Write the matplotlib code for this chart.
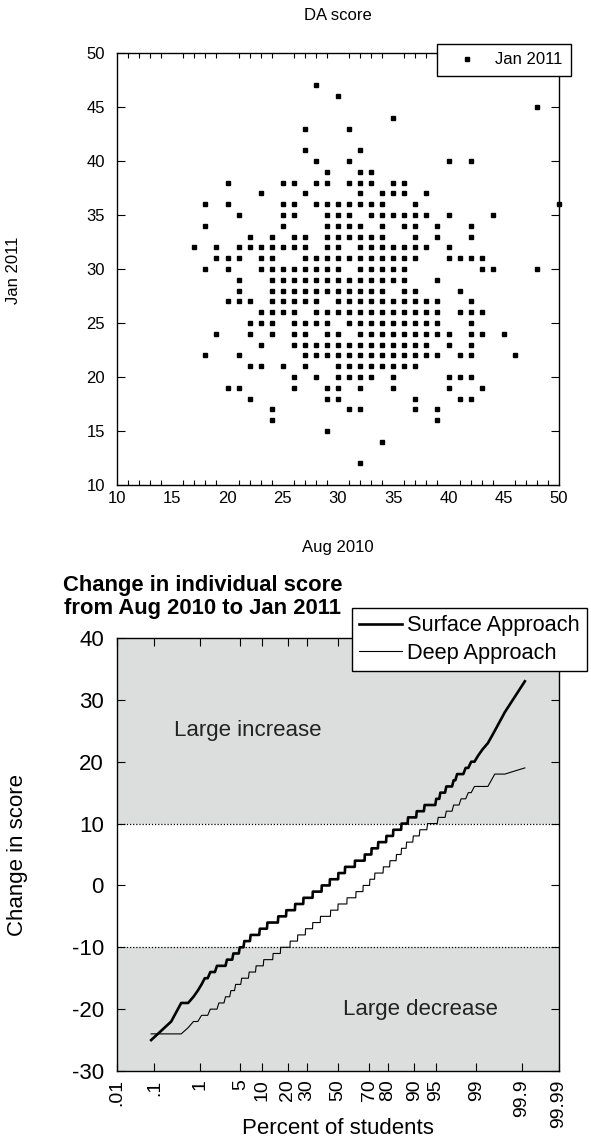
#!/usr/bin/env python
# DA score scatter (Aug 2010 vs Jan 2011) + normal probability plot of score changes
from statistics import NormalDist

import matplotlib
matplotlib.use("Agg")
import matplotlib.pyplot as plt
import numpy as np
from matplotlib.lines import Line2D
from matplotlib.ticker import FixedLocator, MultipleLocator

plt.rcParams["font.family"] = ["Liberation Sans", "DejaVu Sans"]
plt.rcParams["axes.unicode_minus"] = False

# --- top panel: DA score, one row per Jan 2011 score, Aug 2010 scores in that row
jan_levels = [47, 46, 45, 44, 43, 41, 40, 39, 38, 37, 36, 35, 34, 33, 32, 31, 30,
              29, 28, 27, 26, 25, 24, 23, 22, 21, 20, 19, 18, 17, 16, 15, 14, 12]
aug_by_level = [
    [28], [30], [48], [35], [27, 31], [27, 32], [28, 31, 40, 42], [29, 32, 33],
    [20, 25, 26, 28, 29, 31, 32, 33, 35, 36],
    [23, 27, 32, 34, 35, 36, 38],
    [18, 20, 25, 26, 28, 29, 30, 31, 32, 33, 34, 37, 50],
    [21, 25, 26, 29, 30, 31, 33, 34, 35, 36, 37, 38, 40, 44],
    [18, 25, 29, 30, 31, 32, 34, 36, 37, 39, 42],
    [22, 24, 26, 27, 29, 30, 31, 32, 33, 34, 37, 39, 42],
    [17, 19, 21, 22, 23, 24, 25, 26, 27, 29, 30, 32, 33, 34, 35, 36, 37, 38, 40],
    [19, 20, 21, 23, 24, 27, 28, 29, 30, 31, 32, 33, 34, 35, 36, 37, 40, 41, 42, 43],
    [18, 20, 23, 24, 25, 26, 27, 28, 29, 30, 32, 33, 34, 35, 36, 43, 44, 48],
    [21, 24, 25, 26, 27, 28, 29, 30, 31, 32, 33, 34, 35, 36, 39],
    [21, 24, 25, 26, 27, 28, 29, 30, 31, 32, 33, 34, 36, 37, 41],
    [20, 21, 22, 24, 25, 26, 27, 28, 30, 31, 32, 33, 34, 35, 36, 37, 38, 39, 42],
    [23, 24, 25, 26, 28, 29, 30, 31, 32, 33, 34, 35, 36, 37, 38, 39, 41, 42, 43],
    [22, 23, 24, 26, 27, 28, 29, 31, 32, 33, 34, 35, 36, 37, 38, 39, 42],
    [19, 22, 24, 26, 27, 29, 30, 32, 33, 34, 35, 36, 37, 38, 39, 40, 42, 43, 45],
    [23, 26, 27, 28, 29, 30, 31, 32, 33, 34, 35, 36, 37, 38, 40, 42],
    [18, 21, 27, 28, 29, 30, 31, 32, 33, 34, 35, 36, 37, 38, 39, 41, 42, 46],
    [22, 23, 25, 27, 30, 31, 32, 33, 34, 35, 36, 37],
    [26, 28, 30, 31, 32, 33, 35, 40, 41, 42],
    [20, 21, 26, 29, 30, 32, 35, 40, 43],
    [22, 29, 30, 37, 41, 42],
    [24, 31, 32, 37, 39],
    [24, 39], [29], [34], [32],
]

# --- bottom panel: change in score (Jan - Aug) and number of students at each value
surface_change = [-25, -22, -19, -18, -17, -16, -15, -14, -13, -12, -11, -10, -9, -8,
                  -7, -6, -5, -4, -3, -2, -1, 0, 1, 2, 3, 4, 5, 6, 7, 8, 9, 10, 11,
                  12, 13, 14, 15, 16, 17, 18, 19, 20, 21, 22, 23, 25, 28, 33]
surface_count = [1, 1, 2, 1, 1, 1, 2, 3, 6, 5, 6, 5, 8, 14,
                 14, 24, 21, 26, 27, 33, 34, 32, 34, 27, 39, 37, 24, 22, 25, 19, 20, 14, 16,
                 12, 14, 4, 5, 5, 2, 4, 2, 2, 1, 1, 1, 1, 1, 1]
deep_change = [-24, -23, -22, -21, -20, -19, -18, -17, -16, -15, -14, -13, -12, -11,
               -10, -9, -8, -7, -6, -5, -4, -3, -2, -1, 0, 1, 2, 3, 4, 5, 6, 7, 8, 9,
               10, 11, 12, 13, 14, 15, 16, 18, 19]
deep_count = [3, 1, 2, 3, 4, 4, 4, 4, 6, 9, 10, 13, 19, 18,
              26, 23, 26, 26, 29, 40, 30, 36, 35, 27, 24, 17, 27, 19, 17, 12, 11, 13, 11, 11,
              12, 7, 5, 4, 3, 2, 4, 2, 1]
pct_ticks = [0.01, 0.1, 1, 5, 10, 20, 30, 50, 70, 80, 90, 95, 99, 99.9, 99.99]
pct_labels = [".01", ".1", "1", "5", "10", "20", "30", "50", "70", "80", "90", "95",
              "99", "99.9", "99.99"]

W, H = 591, 1144


def box(left, top, right, bottom):
    return [left / W, 1 - bottom / H, (right - left) / W, (bottom - top) / H]


fig = plt.figure(figsize=(W / 100, H / 100), dpi=100)

# ---------------- top: scatter
ax1 = fig.add_axes(box(117, 53, 559, 485))
aug = [a for row in aug_by_level for a in row]
jan = [j for j, row in zip(jan_levels, aug_by_level) for _ in row]
ax1.plot(aug, jan, "s", color="black", ms=2.3, ls="none", clip_on=False)
ax1.set_xlim(10, 50)
ax1.set_ylim(10, 50)
ax1.xaxis.set_major_locator(MultipleLocator(5))
ax1.xaxis.set_minor_locator(MultipleLocator(1))
ax1.yaxis.set_major_locator(MultipleLocator(5))
ax1.tick_params(axis="x", which="major", length=0, labelsize=12, pad=4.5)
ax1.tick_params(axis="x", which="minor", direction="in", length=3.6, top=True, width=0.8)
ax1.tick_params(axis="y", which="major", direction="in", length=5.8, right=True,
                labelsize=12, width=0.8, pad=8.5)
for s in ax1.spines.values():
    s.set_linewidth(1.0)

fig.text(338 / W, 1 - 16 / H, "DA score", ha="center", va="center", fontsize=12)
fig.text(338 / W, 1 - 548 / H, "Aug 2010", ha="center", va="center", fontsize=12)
fig.text(14 / W, 1 - 270 / H, "Jan 2011", ha="center", va="center", rotation=90,
         fontsize=12)
fig.legend(handles=[Line2D([], [], marker="s", color="black", ms=2.3, ls="none")],
           labels=["Jan 2011"], loc="upper right", bbox_to_anchor=(571 / W, 1 - 44 / H),
           fontsize=12, frameon=True, fancybox=False, edgecolor="black", framealpha=1,
           handlelength=2.6, handletextpad=0.4, borderpad=0.5, borderaxespad=0)

# ---------------- bottom: normal probability plot
nd = NormalDist()
to_z = np.vectorize(lambda p: nd.inv_cdf(min(max(p, 1e-7), 100 - 1e-7) / 100), otypes=[float])
to_p = np.vectorize(lambda z: nd.cdf(z) * 100, otypes=[float])

ax2 = fig.add_axes(box(117, 638, 559, 1071))
ax2.set_xscale("function", functions=(to_z, to_p))
ax2.set_xlim(0.01, 99.99)
ax2.set_ylim(-30, 40)

gray = "#dcdddd"
ax2.axhspan(10, 40, color=gray, lw=0, zorder=0)
ax2.axhspan(-30, -10, color=gray, lw=0, zorder=0)
ax2.axhline(10, color="black", ls=(0, (1, 1.5)), lw=0.9, zorder=1)
ax2.axhline(-10, color="black", ls=(0, (1, 1.5)), lw=0.9, zorder=1)

for change, count, lw, label in [(deep_change, deep_count, 0.8, "Deep Approach"),
                                 (surface_change, surface_count, 1.9, "Surface Approach")]:
    scores = np.repeat(change, count)
    n = len(scores)
    pos = (np.arange(1, n + 1) - 0.5) / n * 100
    ax2.plot(pos, scores, color="black", lw=lw, label=label, zorder=3)

ax2.text(0.29, 25, "Large increase", fontsize=16, va="center", ha="left", color="#222222")
ax2.text(53.4, -20, "Large decrease", fontsize=16, va="center", ha="left", color="#222222")

ax2.xaxis.set_major_locator(FixedLocator(pct_ticks))
ax2.set_xticklabels(pct_labels, rotation=90)
ax2.xaxis.set_minor_locator(FixedLocator([]))
ax2.yaxis.set_major_locator(MultipleLocator(10))
ax2.tick_params(axis="x", direction="in", length=6, top=True, labelsize=14, width=0.8, pad=6)
ax2.tick_params(axis="y", direction="in", length=6, right=True, labelsize=16, width=0.8,
                pad=9.4)
for s in ax2.spines.values():
    s.set_linewidth(1.0)

fig.text(203 / W, 1 - 597 / H, "Change in individual score\nfrom Aug 2010 to Jan 2011",
         ha="center", va="center", fontsize=15.8, fontweight="bold", linespacing=1.1)
fig.text(338 / W, 1 - 1129 / H, "Percent of students", ha="center", va="center",
         fontsize=16)
fig.text(18 / W, 1 - 855 / H, "Change in score", ha="center", va="center", rotation=90,
         fontsize=16)

h = [Line2D([], [], color="black", lw=1.9), Line2D([], [], color="black", lw=0.8)]
fig.legend(handles=h, labels=["Surface Approach", "Deep Approach"], loc="upper left",
           bbox_to_anchor=(352 / W, 1 - 608 / H), fontsize=15.7, frameon=True,
           fancybox=False, edgecolor="black", framealpha=1, handlelength=1.95,
           handletextpad=0.23, borderpad=0.33, labelspacing=0.3, borderaxespad=0)

fig.savefig("out.png", dpi=100)
